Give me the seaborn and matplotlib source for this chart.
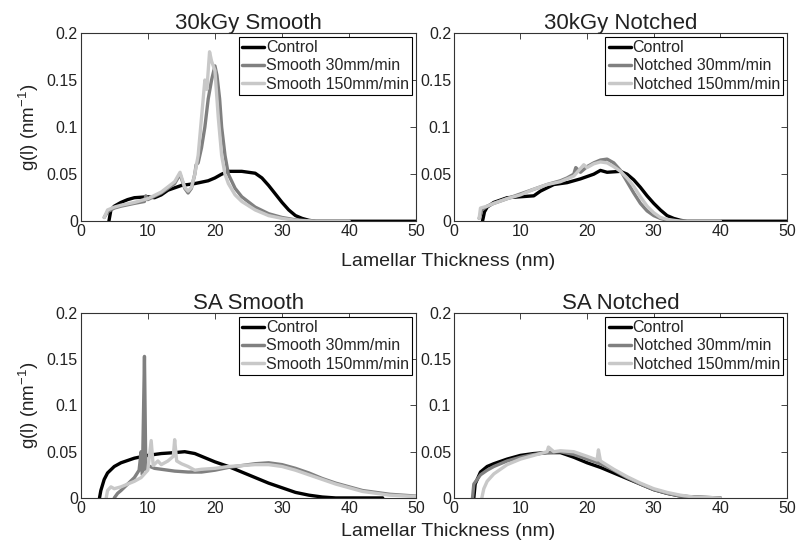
import pandas as pd
import numpy as np
import matplotlib
matplotlib.use('Agg')
import matplotlib.pyplot as plt
import seaborn as sns

sns.set_style('white')
plt.rcParams['font.family'] = ['Liberation Sans', 'DejaVu Sans']
plt.rcParams['mathtext.default'] = 'regular'

# ---- 30kGy Smooth ----
gs_ctrl_x = [4.2, 4.5, 5, 6, 7, 8, 10, 11, 12, 13, 15, 17, 19, 20, 21, 22, 24, 26, 27, 28, 29, 30, 31, 32, 33, 34, 35, 40, 50]
gs_ctrl_y = [0, 0.012, 0.016, 0.02, 0.023, 0.025, 0.026, 0.025, 0.028, 0.033, 0.038, 0.04, 0.043, 0.046, 0.05, 0.053, 0.053, 0.051, 0.046, 0.038, 0.029, 0.02, 0.012, 0.006, 0.003, 0.001, 0.0, 0.0, 0.0]
gs_30_x = [3.5, 4, 5, 6, 8, 9.5, 9.7, 10, 12, 14, 14.8, 15.5, 16, 16.5, 17, 17.2, 17.5, 18, 18.5, 19, 19.5, 20, 20.3, 20.7, 21, 21.5, 22, 23, 24, 26, 28, 30, 32, 35, 40]
gs_30_y = [0.004, 0.01, 0.014, 0.016, 0.019, 0.021, 0.027, 0.023, 0.03, 0.04, 0.05, 0.035, 0.03, 0.035, 0.05, 0.06, 0.062, 0.078, 0.1, 0.13, 0.15, 0.165, 0.155, 0.13, 0.1, 0.07, 0.05, 0.035, 0.026, 0.015, 0.008, 0.004, 0.0015, 0.0, 0.0]
gs_150_x = [3.5, 4, 5, 6, 8, 10, 12, 14, 14.8, 15.5, 16, 16.5, 17, 17.5, 18, 18.5, 18.8, 19.2, 19.5, 20, 20.5, 21, 21.5, 22, 23, 24, 26, 28, 30, 32, 35, 40]
gs_150_y = [0.004, 0.012, 0.015, 0.017, 0.02, 0.024, 0.031, 0.042, 0.052, 0.036, 0.032, 0.036, 0.05, 0.07, 0.11, 0.15, 0.14, 0.18, 0.17, 0.16, 0.11, 0.07, 0.05, 0.04, 0.028, 0.021, 0.012, 0.006, 0.003, 0.001, 0.0, 0.0]

# ---- 30kGy Notched ----
gn_ctrl_x = [4.3, 4.6, 5, 6, 8, 10, 12, 13, 15, 17, 19, 21, 22, 23, 25, 26, 27, 28, 29, 30, 31, 32, 33, 34, 35, 40, 50]
gn_ctrl_y = [0, 0.01, 0.015, 0.02, 0.025, 0.026, 0.027, 0.032, 0.039, 0.041, 0.045, 0.05, 0.054, 0.052, 0.053, 0.05, 0.044, 0.036, 0.027, 0.019, 0.012, 0.006, 0.003, 0.001, 0.0, 0.0, 0.0]
gn_30_x = [3.8, 4.2, 5, 6, 8, 10, 12, 14, 16, 17, 18, 18.3, 19, 20, 21, 22, 23, 24, 25, 26, 27, 28, 29, 30, 31, 32, 34, 40]
gn_30_y = [0.003, 0.012, 0.016, 0.019, 0.024, 0.029, 0.034, 0.039, 0.043, 0.046, 0.05, 0.057, 0.052, 0.058, 0.062, 0.065, 0.066, 0.062, 0.054, 0.042, 0.03, 0.019, 0.011, 0.006, 0.003, 0.001, 0.0, 0.0]
gn_150_x = [3.8, 4, 5, 6, 8, 10, 12, 14, 16, 18, 19.5, 20, 21, 22, 23, 24, 25, 26, 27, 28, 29, 30, 31, 32, 34, 40]
gn_150_y = [0.003, 0.014, 0.016, 0.019, 0.024, 0.028, 0.034, 0.039, 0.042, 0.048, 0.06, 0.057, 0.061, 0.063, 0.062, 0.058, 0.053, 0.046, 0.037, 0.026, 0.016, 0.009, 0.004, 0.002, 0.0, 0.0]

# ---- SA Smooth ----
ss_ctrl_x = [2.8, 3, 3.5, 4, 5, 6, 8, 10, 12, 14, 15.5, 17, 18, 20, 22, 24, 26, 28, 30, 32, 34, 36, 38, 45]
ss_ctrl_y = [0, 0.008, 0.02, 0.027, 0.034, 0.038, 0.043, 0.046, 0.048, 0.049, 0.05, 0.048, 0.045, 0.039, 0.034, 0.028, 0.022, 0.016, 0.011, 0.006, 0.003, 0.001, 0.0, 0.0]
ss_30_x = [5, 5.5, 6, 7, 8, 8.7, 9, 9.2, 9.5, 9.7, 10, 11, 12, 14, 16, 18, 20, 22, 24, 26, 28, 30, 32, 34, 36, 38, 40, 42, 44, 46, 48, 50]
ss_30_y = [0, 0.005, 0.008, 0.015, 0.022, 0.03, 0.05, 0.025, 0.153, 0.03, 0.035, 0.032, 0.031, 0.029, 0.028, 0.028, 0.03, 0.033, 0.035, 0.037, 0.038, 0.036, 0.032, 0.027, 0.021, 0.016, 0.012, 0.008, 0.006, 0.004, 0.003, 0.002]
ss_150_x = [3.8, 4, 4.5, 5, 6, 7, 8, 9, 10, 10.5, 10.8, 11.5, 12, 13, 13.8, 14, 14.3, 15, 16, 17, 18, 20, 22, 24, 26, 28, 30, 32, 34, 36, 38, 40, 42, 44, 46, 50]
ss_150_y = [0, 0.008, 0.012, 0.01, 0.012, 0.015, 0.018, 0.022, 0.03, 0.062, 0.035, 0.04, 0.036, 0.04, 0.045, 0.063, 0.04, 0.037, 0.034, 0.03, 0.031, 0.032, 0.034, 0.035, 0.036, 0.036, 0.034, 0.03, 0.025, 0.02, 0.015, 0.011, 0.007, 0.005, 0.003, 0.0015]

# ---- SA Notched ----
sn_ctrl_x = [3, 3.2, 4, 5, 6, 8, 10, 12, 14, 16, 18, 20, 22, 24, 26, 28, 30, 32, 34, 36, 40]
sn_ctrl_y = [0, 0.015, 0.028, 0.034, 0.037, 0.042, 0.046, 0.048, 0.049, 0.049, 0.044, 0.038, 0.033, 0.027, 0.021, 0.015, 0.009, 0.005, 0.002, 0.001, 0.0]
sn_30_x = [2.8, 3, 4, 5, 6, 8, 10, 12, 14, 16, 18, 20, 22, 24, 26, 28, 30, 32, 34, 38]
sn_30_y = [0, 0.015, 0.025, 0.03, 0.034, 0.04, 0.044, 0.047, 0.049, 0.05, 0.047, 0.042, 0.037, 0.03, 0.022, 0.015, 0.009, 0.005, 0.002, 0.0]
sn_150_x = [4.2, 4.5, 5, 6, 8, 10, 12, 14, 14.2, 15, 16, 18, 20, 21.5, 21.7, 22, 24, 26, 28, 30, 32, 34, 36, 40]
sn_150_y = [0, 0.01, 0.018, 0.026, 0.036, 0.042, 0.046, 0.05, 0.055, 0.05, 0.051, 0.05, 0.045, 0.041, 0.052, 0.04, 0.031, 0.023, 0.016, 0.01, 0.006, 0.003, 0.001, 0.0]

colors = ['#000000', '#808080', '#c8c8c8']

panels = [
    ('30kGy Smooth', 'Smooth', [(gs_ctrl_x, gs_ctrl_y), (gs_30_x, gs_30_y), (gs_150_x, gs_150_y)]),
    ('30kGy Notched', 'Notched', [(gn_ctrl_x, gn_ctrl_y), (gn_30_x, gn_30_y), (gn_150_x, gn_150_y)]),
    ('SA Smooth', 'Smooth', [(ss_ctrl_x, ss_ctrl_y), (ss_30_x, ss_30_y), (ss_150_x, ss_150_y)]),
    ('SA Notched', 'Notched', [(sn_ctrl_x, sn_ctrl_y), (sn_30_x, sn_30_y), (sn_150_x, sn_150_y)]),
]

fig = plt.figure(figsize=(7.99, 5.49), dpi=100)
rects = [
    [0.101, 0.597, 0.420, 0.343],
    [0.568, 0.597, 0.417, 0.343],
    [0.101, 0.093, 0.420, 0.337],
    [0.568, 0.093, 0.417, 0.337],
]

for rect, (title, kind, curves) in zip(rects, panels):
    ax = fig.add_axes(rect)
    names = ['Control', kind + ' 30mm/min', kind + ' 150mm/min']
    frames = []
    for name, (xs, ys) in zip(names, curves):
        frames.append(pd.DataFrame({'x': xs, 'y': ys, 'series': name}))
    df = pd.concat(frames)
    sns.lineplot(data=df, x='x', y='y', hue='series', palette=colors,
                 hue_order=names, sort=False, estimator=None, lw=2.4, ax=ax)
    ax.set_xlim(0, 50)
    ax.set_ylim(0, 0.2)
    ax.set_xticks([0, 10, 20, 30, 40, 50])
    ax.set_yticks([0, 0.05, 0.1, 0.15, 0.2])
    ax.set_yticklabels(['0', '0.05', '0.1', '0.15', '0.2'])
    ax.tick_params(direction='in', top=True, right=True, length=4, labelsize=11.5,
                   pad=2, width=0.6, labelcolor='#222222')
    for s in ax.spines.values():
        s.set_linewidth(0.8)
        s.set_color('#333333')
    ax.set_xlabel('')
    ax.set_ylabel('')
    ax.set_title(title, fontsize=16, pad=3, color='#222222')
    leg = ax.legend(loc='upper right', fontsize=11.5, handlelength=1.4, handletextpad=0.1,
                    borderaxespad=0.25, borderpad=0.2, labelspacing=0.2, fancybox=False,
                    framealpha=1)
    leg.get_frame().set_edgecolor('black')
    leg.get_frame().set_linewidth(0.8)
    for h in leg.get_lines():
        h.set_linewidth(2.5)
    if rect[0] < 0.2:
        ax.set_ylabel('g(l) (nm$^{-1}$)', fontsize=13.5, labelpad=4, color='#222222')

fig.text(0.561, 0.523, 'Lamellar Thickness (nm)', ha='center', va='center', fontsize=14, color='#222222')
fig.text(0.561, 0.031, 'Lamellar Thickness (nm)', ha='center', va='center', fontsize=14, color='#222222')

plt.savefig('out.png', dpi=100)
